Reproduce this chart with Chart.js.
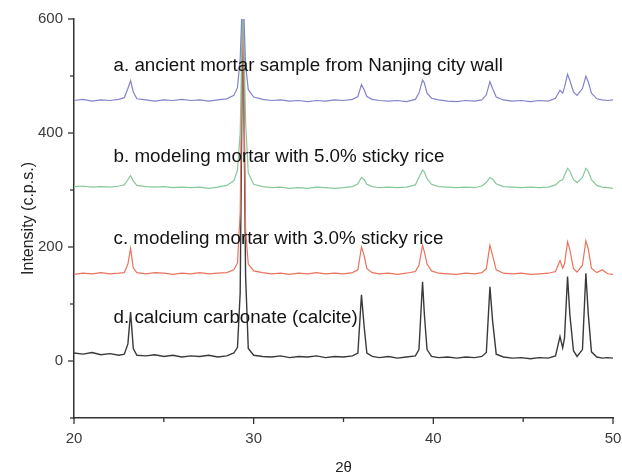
<!DOCTYPE html>
<html>
<head>
<meta charset="utf-8">
<script src="https://cdn.jsdelivr.net/npm/chart.js@4"></script>
<style>
  body { margin: 0; background: #fff; }
  #wrap { width: 622px; height: 475px; }
</style>
</head>
<body>
<div id="wrap"><canvas id="xrd"></canvas></div>
<script>
// 2-theta positions shared by all four patterns
const twoTheta = [
  20.0, 20.5, 21.0, 21.5, 22.0, 22.5, 22.8, 23.0, 23.15, 23.3,
  23.5, 24.0, 24.5, 25.0, 25.5, 26.0, 26.5, 27.0, 27.5, 28.0,
  28.5, 28.9, 29.1, 29.25, 29.4, 29.55, 29.7, 30.0, 30.5, 31.0,
  31.5, 32.0, 32.5, 33.0, 33.5, 34.0, 34.5, 35.0, 35.5, 35.8,
  36.0, 36.15, 36.3, 36.6, 37.0, 37.5, 38.0, 38.5, 39.0, 39.2,
  39.4, 39.5, 39.65, 39.9, 40.3, 40.8, 41.3, 41.8, 42.3, 42.7,
  42.95, 43.15, 43.3, 43.5, 43.9, 44.4, 44.9, 45.4, 45.9, 46.4,
  46.8, 47.05, 47.2, 47.3, 47.47, 47.6, 47.8, 48.0, 48.3, 48.49,
  48.62, 48.8, 49.1, 49.4, 49.7, 50.0
];

// a. ancient mortar sample
const ancientMortar = [
  457, 459, 456, 458, 457, 459, 462, 478, 492, 472,
  460, 458, 456, 458, 457, 459, 457, 458, 456, 458,
  460, 466, 480, 530, 660, 520, 476, 463, 459, 457,
  458, 456, 457, 455, 457, 456, 458, 457, 459, 464,
  485, 476, 464, 459, 457, 456, 457, 455, 459, 470,
  493, 488, 470, 461, 458, 456, 455, 457, 456, 458,
  467, 490, 478, 463, 458, 456, 457, 455, 457, 456,
  461, 475, 470, 480, 503, 492, 472, 466, 478, 500,
  490, 470, 460, 458, 457, 458
];

// b. modeling mortar 5.0% sticky rice
const rice50 = [
  306, 307, 305, 306, 305, 307, 309, 318, 325, 316,
  308, 306, 305, 306, 304, 305, 304, 305, 303, 305,
  308, 316, 335, 400, 650, 420, 330, 310, 306, 304,
  305, 303, 304, 303, 305, 304, 303, 304, 306, 311,
  322, 318, 310, 306, 304, 305, 304, 305, 309, 322,
  335, 332, 320, 310, 306, 305, 304, 305, 304, 307,
  313, 322, 319, 311, 306, 305, 304, 305, 304, 305,
  309, 316, 318, 326, 338, 333, 318, 313, 322, 338,
  333, 318, 308, 305, 304, 303
];

// c. modeling mortar 3.0% sticky rice
const rice30 = [
  152, 154, 153, 155, 153, 154, 155, 170, 198, 163,
  155, 153, 155, 154, 152, 154, 153, 155, 153, 154,
  155, 160, 172, 260, 640, 230, 170, 158, 155, 153,
  154, 152, 154, 153, 155, 153, 154, 153, 155, 160,
  200, 185, 162, 155, 153, 154, 152, 154, 157, 168,
  203, 192, 170, 158, 154, 153, 152, 154, 153, 155,
  162, 203, 185, 160, 154, 153, 154, 152, 153, 154,
  157, 176, 163, 170, 209, 195, 162, 156, 168, 211,
  197, 163, 155, 160, 153, 152
];

// d. calcium carbonate (calcite)
const calcite = [
  14, 12, 15, 11, 13, 10, 12, 30, 86, 22,
  10, 9, 11, 8, 10, 7, 9, 8, 10, 7,
  9, 14, 24, 120, 640, 150, 22, 10, 8, 7,
  9, 6, 8, 7, 9, 6, 8, 7, 9, 14,
  116, 60, 14, 8, 6, 8, 5, 7, 9, 20,
  139, 82, 20, 8, 6, 7, 5, 7, 6, 8,
  15, 130, 70, 12, 7, 5, 6, 4, 6, 5,
  9, 43, 23, 40, 148, 81, 18, 8, 20, 154,
  84, 16, 7, 5, 6, 5
];

const seriesNames = [
  "a. ancient mortar sample from Nanjing city wall",
  "b. modeling mortar with 5.0% sticky rice",
  "c. modeling mortar with 3.0% sticky rice",
  "d. calcium carbonate (calcite)"
];
const seriesColors = ["#8383cc", "#86c89a", "#e8735c", "#3a3a3a"];
const xTickLabels = [20, 30, 40, 50];
const yTickLabels = [0, 200, 400, 600];

const font = "'Liberation Sans', Arial, sans-serif";

function toPoints(ys) {
  return twoTheta.map((x, i) => ({ x: x, y: ys[i] }));
}

// where each caption sits, in axis units
const labelSpots = [
  { x: 22.2, y: 517 },
  { x: 22.2, y: 358 },
  { x: 22.2, y: 215 },
  { x: 22.2, y: 76 }
];

const extras = {
  id: "extras",
  afterDraw(chart) {
    const ctx = chart.ctx;
    const xs = chart.scales.x;
    const ys = chart.scales.y;
    const area = chart.chartArea;
    ctx.save();
    ctx.strokeStyle = "#333";
    ctx.lineWidth = 1.3;
    // y ticks, majors every 200
    for (let v = -100; v <= 600; v += 100) {
      const py = ys.getPixelForValue(v);
      const len = yTickLabels.includes(v) ? 6 : 4;
      ctx.beginPath();
      ctx.moveTo(area.left - len, py);
      ctx.lineTo(area.left, py);
      ctx.stroke();
    }
    // x ticks, majors every 10
    for (let v = 20; v <= 50; v += 5) {
      const px = xs.getPixelForValue(v);
      const len = xTickLabels.includes(v) ? 6 : 4;
      ctx.beginPath();
      ctx.moveTo(px, area.bottom);
      ctx.lineTo(px, area.bottom + len);
      ctx.stroke();
    }
    // captions
    ctx.fillStyle = "#141414";
    ctx.font = "18.8px " + font;
    ctx.textBaseline = "middle";
    ctx.textAlign = "left";
    seriesNames.forEach((name, i) => {
      ctx.fillText(name, xs.getPixelForValue(labelSpots[i].x), ys.getPixelForValue(labelSpots[i].y));
    });
    ctx.restore();
  }
};

const ctx = document.getElementById("xrd").getContext("2d");
const xrdChart = new Chart(ctx, {
  type: "line",
  data: {
    datasets: [
      { label: seriesNames[0], data: toPoints(ancientMortar) },
      { label: seriesNames[1], data: toPoints(rice50) },
      { label: seriesNames[2], data: toPoints(rice30) },
      { label: seriesNames[3], data: toPoints(calcite) }
    ].map((d, i) => Object.assign(d, {
      borderColor: seriesColors[i],
      borderWidth: i === 3 ? 1.4 : 1.2,
      pointRadius: 0,
      tension: 0,
      fill: false
    }))
  },
  options: {
    responsive: true,
    maintainAspectRatio: false,
    animation: false,
    layout: { padding: { top: 19, right: 9, left: 0, bottom: 0 } },
    plugins: { legend: { display: false }, tooltip: { enabled: false } },
    scales: {
      x: {
        type: "linear",
        min: 20,
        max: 50,
        grid: { display: false, drawTicks: false },
        border: { display: true, color: "#333", width: 1.5 },
        ticks: {
          stepSize: 5,
          autoSkip: false,
          maxRotation: 0,
          padding: 12,
          color: "#3a3a3a",
          font: { family: font, size: 15 },
          callback: (v) => (xTickLabels.includes(v) ? String(v) : "")
        },
        title: {
          display: true,
          text: "2θ",
          color: "#222",
          font: { family: font, size: 15, lineHeight: 1 },
          padding: { top: 0, bottom: 0 }
        },
        afterFit(scale) {
          scale.height = 57;
          scale.paddingLeft = 0;
          scale.paddingRight = 0;
        }
      },
      y: {
        min: -100,
        max: 600,
        grid: { display: false, drawTicks: false },
        border: { display: true, color: "#333", width: 1.5 },
        ticks: {
          stepSize: 100,
          padding: 11,
          color: "#3a3a3a",
          font: { family: font, size: 15 },
          callback: (v) => (yTickLabels.includes(v) ? String(v) : "")
        },
        title: {
          display: true,
          text: "Intensity (c.p.s.)",
          color: "#222",
          font: { family: font, size: 16, lineHeight: 1 },
          padding: { top: 21, bottom: 0 }
        },
        afterFit(scale) {
          scale.width = 74;
          scale.paddingTop = 0;
          scale.paddingBottom = 0;
        }
      }
    }
  },
  plugins: [extras]
});
</script>
</body>
</html>
